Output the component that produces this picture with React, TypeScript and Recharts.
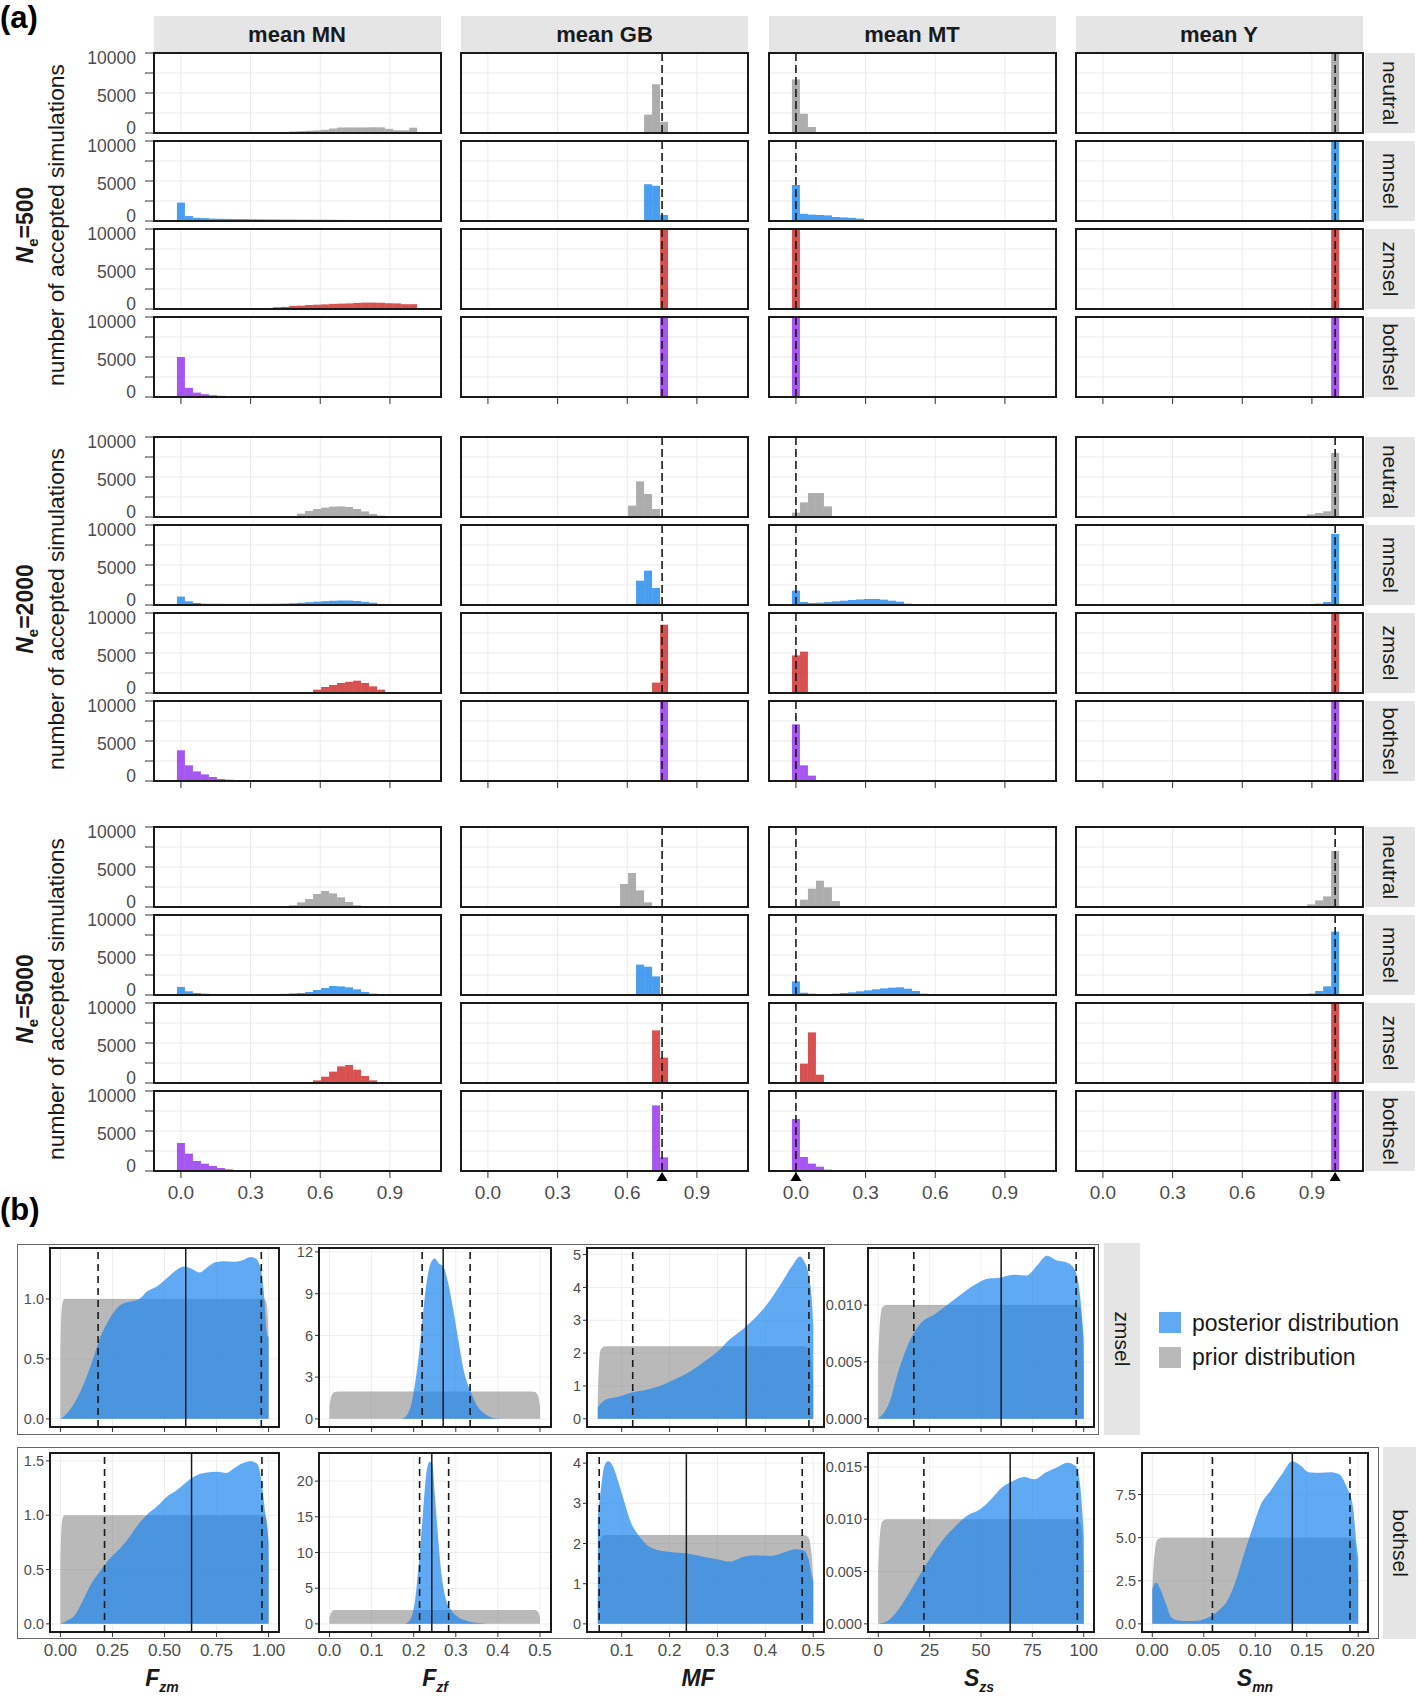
import React from "react";
import {
  BarChart,
  Bar,
  ComposedChart,
  Area,
  XAxis,
  YAxis,
  CartesianGrid,
  ReferenceLine,
  ReferenceDot,
} from "recharts";

const FONT = '"Liberation Sans", Arial, Helvetica, sans-serif';
const INK = "#1a1a1a";
const TICK_TXT = "#4d4d4d";
const GRID = "#ebebeb";
const STRIP_BG = "#e5e5e5";

// ---------------- (a) histograms ----------------
// 30 bins of width 1/29, bin k centred on k/29. Each panel keeps its first non-empty bin and the counts.
const BIN_WIDTH = 1 / 29;
const N_BINS = 30;

const statLabels = ["mean MN", "mean GB", "mean MT", "mean Y"];
const modelLabels = ["neutral", "mnsel", "zmsel", "bothsel"];
const modelColors = ["#999999", "#1C86EE", "#CD2626", "#912CEE"];
const trueValue: (number | null)[] = [null, 0.75, 0, 1];
const neLabels = ["500", "2000", "5000"];
const xTicksA = [0, 0.3, 0.6, 0.9];
const yTicksA = [0, 2500, 5000, 7500, 10000];

type Spec = { from: number; n: number[] };

// Ne = 500
const ne500_MN_neutral: Spec = { from: 13, n: [130, 180, 230, 280, 330, 400, 560, 680, 700, 690, 700, 720, 700, 520, 340, 330, 660] };
const ne500_MN_mnsel: Spec = { from: 0, n: [2300, 620, 400, 360, 300, 280, 260, 250, 240, 220, 210, 200, 190, 180, 180, 170, 170, 160, 160, 150, 140, 130, 110, 70, 30] };
const ne500_MN_zmsel: Spec = { from: 10, n: [100, 130, 220, 260, 380, 420, 500, 540, 580, 640, 670, 700, 760, 800, 800, 780, 720, 700, 600, 600] };
const ne500_MN_bothsel: Spec = { from: 0, n: [5000, 1150, 550, 350, 220, 150, 100, 80, 40, 30, 20] };
const ne500_GB_neutral: Spec = { from: 20, n: [2300, 6100, 1400] };
const ne500_GB_mnsel: Spec = { from: 20, n: [4600, 4400, 750] };
const ne500_GB_zmsel: Spec = { from: 22, n: [10000] };
const ne500_GB_bothsel: Spec = { from: 22, n: [10000] };
const ne500_MT_neutral: Spec = { from: 0, n: [6700, 2400, 750] };
const ne500_MT_mnsel: Spec = { from: 0, n: [4500, 900, 800, 750, 700, 500, 450, 400, 300, 100] };
const ne500_MT_zmsel: Spec = { from: 0, n: [10000] };
const ne500_MT_bothsel: Spec = { from: 0, n: [10000] };
const ne500_Y_neutral: Spec = { from: 29, n: [10000] };
const ne500_Y_mnsel: Spec = { from: 29, n: [10000] };
const ne500_Y_zmsel: Spec = { from: 29, n: [10000] };
const ne500_Y_bothsel: Spec = { from: 29, n: [10000] };

// Ne = 2000
const ne2000_MN_neutral: Spec = { from: 14, n: [125, 420, 750, 1000, 1170, 1300, 1330, 1250, 1000, 700, 375, 170] };
const ne2000_MN_mnsel: Spec = { from: 0, n: [1050, 460, 250, 170, 150, 150, 140, 140, 140, 140, 150, 150, 160, 180, 220, 280, 350, 420, 480, 530, 560, 560, 500, 400, 280, 140, 50] };
const ne2000_MN_zmsel: Spec = { from: 16, n: [100, 420, 750, 1000, 1250, 1400, 1540, 1250, 830, 420, 125] };
const ne2000_MN_bothsel: Spec = { from: 0, n: [3840, 1960, 1200, 830, 500, 250, 170, 80, 40] };
const ne2000_GB_neutral: Spec = { from: 18, n: [1420, 4460, 2880, 1000] };
const ne2000_GB_mnsel: Spec = { from: 19, n: [3040, 4300, 2130, 125] };
const ne2000_GB_zmsel: Spec = { from: 21, n: [1300, 8540] };
const ne2000_GB_bothsel: Spec = { from: 22, n: [10000] };
const ne2000_MT_neutral: Spec = { from: 0, n: [540, 1830, 3000, 3000, 1330] };
const ne2000_MT_mnsel: Spec = { from: 0, n: [1800, 375, 250, 290, 375, 460, 540, 625, 700, 750, 750, 670, 540, 420, 170, 60] };
const ne2000_MT_zmsel: Spec = { from: 0, n: [4700, 5170] };
const ne2000_MT_bothsel: Spec = { from: 0, n: [7080, 1960, 670] };
const ne2000_Y_neutral: Spec = { from: 25, n: [125, 330, 500, 710, 8000] };
const ne2000_Y_mnsel: Spec = { from: 26, n: [80, 170, 375, 8880] };
const ne2000_Y_zmsel: Spec = { from: 29, n: [10000] };
const ne2000_Y_bothsel: Spec = { from: 29, n: [10000] };

// Ne = 5000
const ne5000_MN_neutral: Spec = { from: 14, n: [210, 580, 1000, 1630, 2000, 1700, 1210, 625, 210, 60] };
const ne5000_MN_mnsel: Spec = { from: 0, n: [1000, 460, 250, 170, 130, 120, 120, 110, 110, 110, 110, 120, 130, 150, 200, 250, 375, 625, 875, 1125, 1080, 960, 710, 375, 170, 50] };
const ne5000_MN_zmsel: Spec = { from: 16, n: [125, 330, 790, 1420, 2080, 2250, 1670, 875, 330] };
const ne5000_MN_bothsel: Spec = { from: 0, n: [3500, 2170, 1250, 920, 625, 375, 210, 100, 50] };
const ne5000_GB_neutral: Spec = { from: 17, n: [2880, 4250, 2080, 580] };
const ne5000_GB_mnsel: Spec = { from: 19, n: [3800, 3540, 2330, 100] };
const ne5000_GB_zmsel: Spec = { from: 21, n: [6580, 3170] };
const ne5000_GB_bothsel: Spec = { from: 21, n: [8200, 1710] };
const ne5000_MT_neutral: Spec = { from: 1, n: [920, 2290, 3290, 2460, 750] };
const ne5000_MT_mnsel: Spec = { from: 0, n: [1710, 290, 170, 125, 125, 170, 250, 330, 460, 580, 710, 830, 920, 960, 790, 500, 170, 50] };
const ne5000_MT_zmsel: Spec = { from: 0, n: [125, 2420, 6330, 1040] };
const ne5000_MT_bothsel: Spec = { from: 0, n: [6500, 1750, 920, 540, 170] };
const ne5000_Y_neutral: Spec = { from: 25, n: [80, 330, 830, 1330, 7000] };
const ne5000_Y_mnsel: Spec = { from: 26, n: [170, 500, 1080, 7920] };
const ne5000_Y_zmsel: Spec = { from: 29, n: [10000] };
const ne5000_Y_bothsel: Spec = { from: 29, n: [10000] };

const hist500 = [
  [ne500_MN_neutral, ne500_GB_neutral, ne500_MT_neutral, ne500_Y_neutral],
  [ne500_MN_mnsel, ne500_GB_mnsel, ne500_MT_mnsel, ne500_Y_mnsel],
  [ne500_MN_zmsel, ne500_GB_zmsel, ne500_MT_zmsel, ne500_Y_zmsel],
  [ne500_MN_bothsel, ne500_GB_bothsel, ne500_MT_bothsel, ne500_Y_bothsel],
];
const hist2000 = [
  [ne2000_MN_neutral, ne2000_GB_neutral, ne2000_MT_neutral, ne2000_Y_neutral],
  [ne2000_MN_mnsel, ne2000_GB_mnsel, ne2000_MT_mnsel, ne2000_Y_mnsel],
  [ne2000_MN_zmsel, ne2000_GB_zmsel, ne2000_MT_zmsel, ne2000_Y_zmsel],
  [ne2000_MN_bothsel, ne2000_GB_bothsel, ne2000_MT_bothsel, ne2000_Y_bothsel],
];
const hist5000 = [
  [ne5000_MN_neutral, ne5000_GB_neutral, ne5000_MT_neutral, ne5000_Y_neutral],
  [ne5000_MN_mnsel, ne5000_GB_mnsel, ne5000_MT_mnsel, ne5000_Y_mnsel],
  [ne5000_MN_zmsel, ne5000_GB_zmsel, ne5000_MT_zmsel, ne5000_Y_zmsel],
  [ne5000_MN_bothsel, ne5000_GB_bothsel, ne5000_MT_bothsel, ne5000_Y_bothsel],
];
const histBlocks = [hist500, hist2000, hist5000];

// ---------------- (b) densities ----------------
type Pt = [number, number];

const priorFzm: Pt[] = [[0, 0.55], [0.004, 0.85], [0.01, 0.97], [0.02, 1.0], [0.5, 1.0], [0.98, 1.0], [0.99, 0.97], [0.996, 0.85], [1.0, 0.6]];
const priorFzf: Pt[] = [[0, 0.9], [0.004, 1.6], [0.012, 1.93], [0.03, 1.96], [0.25, 1.96], [0.47, 1.96], [0.488, 1.93], [0.496, 1.6], [0.5, 0.9]];
const priorMF: Pt[] = [[0.05, 0.6], [0.052, 1.5], [0.056, 2.1], [0.065, 2.21], [0.27, 2.21], [0.48, 2.21], [0.49, 2.15], [0.496, 1.8], [0.5, 1.1]];
const priorSzs: Pt[] = [[0, 0.005], [0.8, 0.0085], [2, 0.0098], [4, 0.01], [50, 0.01], [96, 0.01], [98, 0.0098], [99.2, 0.0085], [100, 0.005]];
const priorSmn: Pt[] = [[0, 2.0], [0.002, 4.0], [0.005, 4.9], [0.01, 5.0], [0.1, 5.0], [0.19, 5.0], [0.196, 4.9], [0.198, 4.0], [0.2, 2.5]];

// zmsel row
const postFzmZm: Pt[] = [[0, 0], [0.016, 0.02], [0.056, 0.1], [0.112, 0.29], [0.16, 0.517], [0.192, 0.685], [0.224, 0.797], [0.264, 0.908], [0.304, 0.964], [0.344, 0.98], [0.384, 1.006], [0.416, 1.062], [0.464, 1.104], [0.512, 1.174], [0.56, 1.244], [0.592, 1.27], [0.632, 1.25], [0.669, 1.22], [0.704, 1.262], [0.744, 1.307], [0.784, 1.315], [0.832, 1.31], [0.872, 1.32], [0.912, 1.35], [0.936, 1.34], [0.96, 1.27], [0.976, 1.08], [0.992, 0.71], [1.0, 0.68]];
const postFzfZm: Pt[] = [[0.168, 0], [0.176, 0.07], [0.192, 0.8], [0.204, 2.7], [0.216, 5.6], [0.228, 9.2], [0.24, 11.16], [0.25, 11.52], [0.26, 11.16], [0.27, 10.96], [0.283, 9.6], [0.295, 7.67], [0.307, 5.5], [0.319, 3.45], [0.335, 2.0], [0.351, 0.92], [0.371, 0.31], [0.399, 0.02], [0.423, 0]];
const postMFZm: Pt[] = [[0.05, 0.36], [0.067, 0.59], [0.091, 0.66], [0.119, 0.79], [0.154, 0.89], [0.178, 0.99], [0.207, 1.17], [0.242, 1.43], [0.277, 1.79], [0.3, 2.04], [0.324, 2.4], [0.353, 2.73], [0.382, 3.12], [0.411, 3.63], [0.434, 4.14], [0.458, 4.7], [0.472, 4.94], [0.481, 4.8], [0.491, 4.34], [0.497, 3.63], [0.5, 2.8]];
const postSzsZm: Pt[] = [[0, 0], [5.2, 0.00134], [10, 0.00431], [15.7, 0.007], [21, 0.00846], [27.5, 0.0092], [34.1, 0.0101], [40.7, 0.011], [47.2, 0.0118], [53.8, 0.01233], [59, 0.0124], [65.6, 0.01267], [72.2, 0.0126], [77.4, 0.01351], [82.1, 0.01434], [86.6, 0.01395], [91.8, 0.01374], [95.8, 0.01306], [98.4, 0.01053], [100, 0.007]];

// bothsel row
const postFzmBoth: Pt[] = [[0, 0], [0.027, 0.025], [0.068, 0.077], [0.108, 0.215], [0.148, 0.369], [0.188, 0.477], [0.229, 0.584], [0.277, 0.677], [0.325, 0.784], [0.365, 0.892], [0.413, 1.0], [0.462, 1.077], [0.51, 1.169], [0.558, 1.23], [0.606, 1.307], [0.655, 1.369], [0.703, 1.393], [0.751, 1.4], [0.799, 1.39], [0.832, 1.43], [0.872, 1.476], [0.912, 1.498], [0.944, 1.476], [0.968, 1.292], [0.984, 1.015], [0.997, 0.815], [1.0, 0.75]];
const postFzfBoth: Pt[] = [[0.178, 0], [0.19, 0.47], [0.202, 2.8], [0.212, 8.4], [0.222, 15.4], [0.231, 21.5], [0.238, 22.7], [0.244, 22.4], [0.25, 18.2], [0.258, 12.1], [0.266, 7.0], [0.277, 3.3], [0.289, 1.9], [0.305, 0.98], [0.325, 0.42], [0.349, 0.14], [0.373, 0]];
const postMFBoth: Pt[] = [[0.05, 2.65], [0.057, 3.4], [0.064, 3.94], [0.072, 4.05], [0.081, 3.94], [0.092, 3.57], [0.106, 3.02], [0.119, 2.53], [0.133, 2.24], [0.151, 1.98], [0.174, 1.84], [0.202, 1.79], [0.237, 1.75], [0.27, 1.67], [0.299, 1.61], [0.327, 1.55], [0.355, 1.67], [0.378, 1.71], [0.412, 1.69], [0.441, 1.79], [0.464, 1.86], [0.48, 1.83], [0.491, 1.57], [0.497, 1.19], [0.5, 1.05]];
const postSzsBoth: Pt[] = [[0, 0], [4.5, 0.00026], [9.8, 0.00137], [15.1, 0.00297], [20.4, 0.00473], [27, 0.0068], [32.3, 0.00824], [37.7, 0.00936], [43, 0.01031], [49.6, 0.01095], [54.9, 0.01191], [60.2, 0.01303], [65.5, 0.01366], [70.9, 0.01404], [76.2, 0.01382], [81.5, 0.01446], [86.8, 0.01494], [92.1, 0.01541], [96.1, 0.01509], [98.2, 0.01334], [100, 0.00855]];
const postSmnBoth: Pt[] = [[0, 2.0], [0.0037, 2.4], [0.008, 2.0], [0.0133, 1.15], [0.0186, 0.37], [0.025, 0.2], [0.036, 0.16], [0.046, 0.2], [0.057, 0.45], [0.065, 0.8], [0.073, 1.35], [0.081, 2.49], [0.089, 4.04], [0.097, 5.5], [0.105, 6.86], [0.115, 7.73], [0.126, 8.7], [0.136, 9.44], [0.144, 9.19], [0.152, 8.8], [0.163, 8.76], [0.173, 8.8], [0.181, 8.7], [0.189, 7.93], [0.195, 6.77], [0.198, 4.83], [0.2, 3.85]];

// lower bound, point estimate, upper bound
const qFzmZm = [0.181, 0.602, 0.965];
const qFzfZm = [0.22, 0.27, 0.334];
const qMFZm = [0.123, 0.36, 0.491];
const qSzsZm = [17.3, 59.8, 96.3];
const qFzmBoth = [0.212, 0.63, 0.968];
const qFzfBoth = [0.214, 0.243, 0.283];
const qMFBoth = [0.053, 0.235, 0.477];
const qSzsBoth = [22.2, 64.2, 96.9];
const qSmnBoth = [0.0584, 0.136, 0.192];

const xTicksFzm = [0, 0.25, 0.5, 0.75, 1];
const xTicksFzf = [0, 0.1, 0.2, 0.3, 0.4, 0.5];
const xTicksMF = [0.1, 0.2, 0.3, 0.4, 0.5];
const xTicksSzs = [0, 25, 50, 75, 100];
const xTicksSmn = [0, 0.05, 0.1, 0.15, 0.2];
const yTicksFzmZm = [0, 0.5, 1];
const yTicksFzfZm = [0, 3, 6, 9, 12];
const yTicksMFZm = [0, 1, 2, 3, 4, 5];
const yTicksSzsZm = [0, 0.005, 0.01];
const yTicksFzmBoth = [0, 0.5, 1, 1.5];
const yTicksFzfBoth = [0, 5, 10, 15, 20];
const yTicksMFBoth = [0, 1, 2, 3, 4];
const yTicksSzsBoth = [0, 0.005, 0.01, 0.015];
const yTicksSmnBoth = [0, 2.5, 5, 7.5];

// ---------------- layout ----------------
const PW = 287;
const PH = 80;
const COL_LEFT = [153.5, 461, 768.5, 1075.5];
const BLOCK_TOPS = [
  [53, 141, 229, 317],
  [437, 525, 613, 701],
  [827, 915, 1003, 1091],
];
const PH_B = 179;

function toBins(spec: Spec) {
  const out: { x: number; count: number }[] = [];
  for (let k = 0; k < N_BINS; k++) {
    const i = k - spec.from;
    out.push({ x: k * BIN_WIDTH, count: i >= 0 && i < spec.n.length ? spec.n[i] : 0 });
  }
  return out;
}

// an invisible tick keeps the axis ticks (and so the grid lines) without drawing labels
const NoTick = () => <g />;

const Triangle = (props: any) => {
  const { cx, cy } = props;
  return <polygon points={`${cx},${cy + 1} ${cx - 5.5},${cy + 10} ${cx + 5.5},${cy + 10}`} fill="#000" />;
};

// count labels sit slightly inside the panel, as in the original
const HistYTick = (props: any) => {
  const { x, y, payload } = props;
  const v = payload.value;
  if (v % 5000 !== 0) return <g />;
  const shift = v === 0 ? -5 : v === 10000 ? 5 : 3;
  return (
    <text x={x} y={y + shift} dy="0.355em" textAnchor="end" fill={TICK_TXT} fontSize={17.5} fontFamily={FONT}>
      {v}
    </text>
  );
};

const Border = ({ left, top, width, height }: { left: number; top: number; width: number; height: number }) => (
  <div
    style={{
      position: "absolute",
      left: left - 1,
      top: top - 1,
      width: width + 2,
      height: height + 2,
      border: `2px solid ${INK}`,
      boxSizing: "border-box",
      pointerEvents: "none",
    }}
  />
);

function HistPanel({
  spec,
  color,
  left,
  top,
  showY,
  xMode,
  refX,
  marker,
}: {
  spec: Spec;
  color: string;
  left: number;
  top: number;
  showY: boolean;
  xMode: "none" | "ticks" | "labels";
  refX: number | null;
  marker: boolean;
}) {
  const yW = showY ? 75 : 0;
  const xH = xMode === "labels" ? 34 : xMode === "ticks" ? 9 : 0;
  const mT = 12;
  const mR = 2;
  const mB = 10;
  const data = toBins(spec);
  return (
    <div style={{ position: "absolute", left: left - yW, top: top - mT }}>
      <BarChart
        width={yW + PW + mR}
        height={mT + PH + xH + mB}
        data={data}
        margin={{ top: mT, right: mR, bottom: mB, left: 0 }}
        barCategoryGap={0}
        barGap={0}
      >
        <CartesianGrid stroke={GRID} />
        <XAxis
          type="number"
          dataKey="x"
          domain={[-0.116, 1.12]}
          ticks={xTicksA}
          allowDataOverflow
          interval={0}
          height={xH}
          axisLine={false}
          tickLine={xMode === "none" ? false : { stroke: "#333" }}
          tickSize={7}
          tickMargin={8}
          tick={xMode === "labels" ? { fill: TICK_TXT, fontSize: 19, fontFamily: FONT } : <NoTick />}
          tickFormatter={(v: number) => v.toFixed(1)}
        />
        <YAxis
          type="number"
          domain={[0, 10000]}
          ticks={yTicksA}
          allowDataOverflow
          interval={0}
          width={yW}
          axisLine={false}
          tickLine={showY ? { stroke: "#333" } : false}
          tickSize={9}
          tickMargin={9}
          tick={showY ? <HistYTick /> : <NoTick />}
        />
        <Bar dataKey="count" fill={color} fillOpacity={0.8} isAnimationActive={false} />
        {refX !== null && (
          <ReferenceLine x={refX} stroke={INK} strokeWidth={1.6} strokeDasharray="8 4" />
        )}
        {marker && refX !== null && (
          <ReferenceDot x={refX} y={0} r={5} ifOverflow="visible" shape={Triangle} />
        )}
      </BarChart>
      <Border left={yW} top={mT} width={PW} height={PH} />
    </div>
  );
}

function DensityPanel({
  left,
  top,
  width,
  xDomain,
  yDomain,
  xTicks,
  yTicks,
  xDigits,
  yDigits,
  prior,
  post,
  q,
  labels,
}: {
  left: number;
  top: number;
  width: number;
  xDomain: [number, number];
  yDomain: [number, number];
  xTicks: number[];
  yTicks: number[];
  xDigits: number;
  yDigits: number;
  prior: Pt[];
  post: Pt[];
  q: number[];
  labels: boolean;
}) {
  const yW = 50;
  const mT = 10;
  const mR = 24;
  const mB = 2;
  const xH = labels ? 32 : 6;
  const toData = (pts: Pt[]) => pts.map(([x, y]) => ({ x, y }));
  return (
    <div style={{ position: "absolute", left: left - yW, top: top - mT }}>
      <ComposedChart
        width={yW + width + mR}
        height={mT + PH_B + xH + mB}
        margin={{ top: mT, right: mR, bottom: mB, left: 0 }}
      >
        <CartesianGrid stroke="#eeeeee" />
        <XAxis
          type="number"
          dataKey="x"
          domain={xDomain}
          ticks={xTicks}
          allowDataOverflow
          interval={0}
          height={xH}
          axisLine={false}
          tickLine={{ stroke: "#333" }}
          tickSize={5}
          tickMargin={7}
          tick={labels ? { fill: TICK_TXT, fontSize: 17, fontFamily: FONT } : <NoTick />}
          tickFormatter={(v: number) => v.toFixed(xDigits)}
        />
        <YAxis
          type="number"
          domain={yDomain}
          ticks={yTicks}
          allowDataOverflow
          interval={0}
          width={yW}
          axisLine={false}
          tickLine={{ stroke: "#333" }}
          tickSize={4}
          tickMargin={2}
          tick={{ fill: TICK_TXT, fontSize: 14.5, fontFamily: FONT }}
          tickFormatter={(v: number) => v.toFixed(yDigits)}
        />
        <Area
          data={toData(prior)}
          dataKey="y"
          type="monotone"
          fill="#7f7f7f"
          fillOpacity={0.55}
          stroke="none"
          baseValue={0}
          isAnimationActive={false}
        />
        <Area
          data={toData(post)}
          dataKey="y"
          type="monotone"
          fill="#1C86EE"
          fillOpacity={0.7}
          stroke="none"
          baseValue={0}
          isAnimationActive={false}
        />
        <ReferenceLine x={q[0]} stroke={INK} strokeWidth={1.6} strokeDasharray="7 5" />
        <ReferenceLine x={q[1]} stroke={INK} strokeWidth={1.5} />
        <ReferenceLine x={q[2]} stroke={INK} strokeWidth={1.6} strokeDasharray="7 5" />
      </ComposedChart>
      <Border left={yW} top={mT} width={width} height={PH_B} />
    </div>
  );
}

const abs = (left: number, top: number, extra: React.CSSProperties = {}): React.CSSProperties => ({
  position: "absolute",
  left,
  top,
  ...extra,
});

function SideStrip({ left, top, width, height, text }: { left: number; top: number; width: number; height: number; text: string }) {
  return (
    <div
      style={abs(left, top, {
        width,
        height,
        background: STRIP_BG,
        display: "flex",
        alignItems: "center",
        justifyContent: "center",
      })}
    >
      <span style={{ transform: "rotate(90deg)", fontSize: 21, color: INK, whiteSpace: "nowrap" }}>{text}</span>
    </div>
  );
}

function RotatedLabel({ cx, cy, children, style }: { cx: number; cy: number; children: React.ReactNode; style?: React.CSSProperties }) {
  return (
    <div
      style={abs(cx, cy, {
        transform: "translate(-50%, -50%) rotate(-90deg)",
        whiteSpace: "nowrap",
        lineHeight: 1,
        color: INK,
        ...style,
      })}
    >
      {children}
    </div>
  );
}

function AxisTitle({ cx, main, sub }: { cx: number; main: string; sub?: string }) {
  return (
    <div
      style={abs(cx, 1667, {
        transform: "translateX(-50%)",
        fontWeight: "bold",
        fontStyle: "italic",
        fontSize: 23,
        lineHeight: "23px",
        color: INK,
        whiteSpace: "nowrap",
      })}
    >
      {main}
      {sub && <sub style={{ fontSize: 14 }}>{sub}</sub>}
    </div>
  );
}

export default function App() {
  return (
    <div
      style={{
        position: "absolute",
        left: 0,
        top: 0,
        width: 1418,
        height: 1696,
        background: "#fff",
        overflow: "hidden",
        fontFamily: FONT,
      }}
    >
      {/* ---------- (a) ---------- */}
      <div style={abs(0, 2, { fontSize: 31, fontWeight: "bold", lineHeight: "31px", color: "#000" })}>(a)</div>

      {statLabels.map((s, c) => (
        <div
          key={s}
          style={abs(COL_LEFT[c], 16, {
            width: PW,
            height: 37,
            background: STRIP_BG,
            textAlign: "center",
            lineHeight: "37px",
            fontSize: 22,
            fontWeight: "bold",
            color: INK,
          })}
        >
          {s}
        </div>
      ))}

      {histBlocks.map((block, b) =>
        block.map((row, r) =>
          row.map((spec, c) => (
            <HistPanel
              key={`${b}-${r}-${c}`}
              spec={spec}
              color={modelColors[r]}
              left={COL_LEFT[c]}
              top={BLOCK_TOPS[b][r]}
              showY={c === 0}
              xMode={r < 3 ? "none" : b === 2 ? "labels" : "ticks"}
              refX={trueValue[c]}
              marker={b === 2 && r === 3}
            />
          ))
        )
      )}

      {BLOCK_TOPS.map((tops, b) =>
        tops.map((t, r) => (
          <SideStrip key={`s${b}-${r}`} left={1365} top={t} width={50} height={PH} text={modelLabels[r]} />
        ))
      )}

      {BLOCK_TOPS.map((tops, b) => {
        const cy = (tops[0] + tops[3] + PH) / 2;
        return (
          <React.Fragment key={`lab${b}`}>
            <RotatedLabel cx={56} cy={cy} style={{ fontSize: 22.8 }}>
              number of accepted simulations
            </RotatedLabel>
            <RotatedLabel cx={27} cy={cy} style={{ fontSize: 23, fontWeight: "bold" }}>
              <i>N</i>
              <sub style={{ fontSize: 15 }}>e</sub>={neLabels[b]}
            </RotatedLabel>
          </React.Fragment>
        );
      })}

      {/* ---------- (b) ---------- */}
      <div style={abs(0, 1194, { fontSize: 31, fontWeight: "bold", lineHeight: "31px", color: "#000" })}>(b)</div>

      <div style={abs(17, 1244, { width: 1082, height: 191, border: "1.5px solid #666", boxSizing: "border-box" })} />
      <div style={abs(17, 1447, { width: 1362, height: 192, border: "1.5px solid #666", boxSizing: "border-box" })} />

      <DensityPanel left={50} top={1248} width={229} xDomain={[-0.05, 1.05]} yDomain={[-0.068, 1.425]} xTicks={xTicksFzm} yTicks={yTicksFzmZm} xDigits={2} yDigits={1} prior={priorFzm} post={postFzmZm} q={qFzmZm} labels={false} />
      <DensityPanel left={319} top={1248} width={231.5} xDomain={[-0.025, 0.525]} yDomain={[-0.585, 12.28]} xTicks={xTicksFzf} yTicks={yTicksFzfZm} xDigits={1} yDigits={0} prior={priorFzf} post={postFzfZm} q={qFzfZm} labels={false} />
      <DensityPanel left={587} top={1248} width={237} xDomain={[0.0275, 0.5225]} yDomain={[-0.25, 5.2]} xTicks={xTicksMF} yTicks={yTicksMFZm} xDigits={1} yDigits={0} prior={priorMF} post={postMFZm} q={qMFZm} labels={false} />
      <DensityPanel left={868} top={1248} width={226} xDomain={[-5, 105]} yDomain={[-0.00072, 0.01502]} xTicks={xTicksSzs} yTicks={yTicksSzsZm} xDigits={0} yDigits={3} prior={priorSzs} post={postSzsZm} q={qSzsZm} labels={false} />

      <DensityPanel left={50} top={1453} width={229} xDomain={[-0.05, 1.05]} yDomain={[-0.075, 1.573]} xTicks={xTicksFzm} yTicks={yTicksFzmBoth} xDigits={2} yDigits={1} prior={priorFzm} post={postFzmBoth} q={qFzmBoth} labels />
      <DensityPanel left={319} top={1453} width={231.5} xDomain={[-0.025, 0.525]} yDomain={[-1.14, 23.94]} xTicks={xTicksFzf} yTicks={yTicksFzfBoth} xDigits={1} yDigits={0} prior={priorFzf} post={postFzfBoth} q={qFzfBoth} labels />
      <DensityPanel left={587} top={1453} width={237} xDomain={[0.0275, 0.5225]} yDomain={[-0.2025, 4.2525]} xTicks={xTicksMF} yTicks={yTicksMFBoth} xDigits={1} yDigits={0} prior={priorMF} post={postMFBoth} q={qMFBoth} labels />
      <DensityPanel left={868} top={1453} width={226} xDomain={[-5, 105]} yDomain={[-0.00078, 0.01633]} xTicks={xTicksSzs} yTicks={yTicksSzsBoth} xDigits={0} yDigits={3} prior={priorSzs} post={postSzsBoth} q={qSzsBoth} labels />
      <DensityPanel left={1141.5} top={1453} width={226.5} xDomain={[-0.01, 0.21]} yDomain={[-0.472, 9.912]} xTicks={xTicksSmn} yTicks={yTicksSmnBoth} xDigits={2} yDigits={1} prior={priorSmn} post={postSmnBoth} q={qSmnBoth} labels />

      <SideStrip left={1104} top={1243} width={36} height={192} text="zmsel" />
      <SideStrip left={1383} top={1447} width={33} height={192} text="bothsel" />

      {/* legend */}
      <div style={abs(1159, 1312, { width: 22, height: 21, background: "#1C86EE", opacity: 0.7 })} />
      <div style={abs(1159, 1347, { width: 22, height: 21, background: "#7f7f7f", opacity: 0.55 })} />
      <div style={abs(1192, 1309, { fontSize: 23, lineHeight: "28px", color: INK, whiteSpace: "nowrap" })}>posterior distribution</div>
      <div style={abs(1192, 1343, { fontSize: 23, lineHeight: "28px", color: INK, whiteSpace: "nowrap" })}>prior distribution</div>

      <AxisTitle cx={162} main="F" sub="zm" />
      <AxisTitle cx={435} main="F" sub="zf" />
      <AxisTitle cx={698} main="MF" />
      <AxisTitle cx={979} main="S" sub="zs" />
      <AxisTitle cx={1255} main="S" sub="mn" />
    </div>
  );
}
